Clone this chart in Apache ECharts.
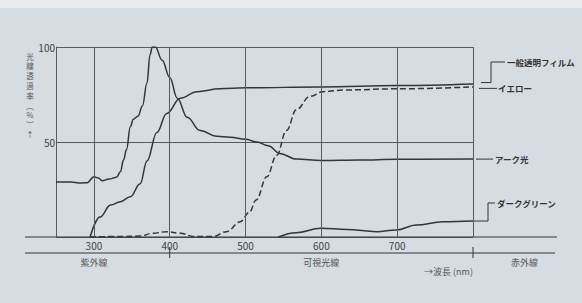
<!DOCTYPE html>
<html>
<head>
<meta charset="utf-8">
<script src="https://cdn.jsdelivr.net/npm/echarts@6/dist/echarts.min.js"></script>
<style>
  html, body { margin: 0; padding: 0; background: #e6eaee; }
  #chart { width: 582px; height: 303px; }
</style>
</head>
<body>
<div id="chart"></div>
<script>
// wavelength ticks (nm)
const labelNm = [300, 400, 500, 600, 700];
const gridNm = [300, 400, 500, 600, 700, 800];

// アーク光 (arc light)
const arcNm  = [250, 270, 282, 291, 300, 306, 311, 320, 330, 335, 339, 343, 348, 352, 358, 364, 370, 374, 377, 381, 390, 400, 410, 423, 440, 462, 480, 500, 515, 530, 545, 567, 600, 650, 700, 800];
const arcVal = [29, 29, 28.4, 28.6, 31.7, 31, 29.6, 30.5, 31.5, 34.4, 40.5, 46, 58, 62, 63.5, 69, 81, 96, 100, 100, 93, 84, 73, 63, 56, 53, 52.5, 51.5, 50, 48, 44, 41, 40.2, 40.5, 40.9, 41];

// 一般透明フィルム (clear film)
const filmNm  = [295, 308, 322, 335, 348, 361, 370, 383, 396, 414, 436, 466, 500, 600, 700, 800];
const filmVal = [0, 10.5, 16.8, 18.6, 21.2, 28, 40, 55, 65, 73, 76.5, 78, 78.5, 79, 79.7, 80.5];

// イエロー (yellow)
const yellowNm  = [295, 340, 361, 378, 396, 414, 431, 457, 475, 493, 505, 514, 528, 541, 554, 567, 585, 602, 633, 700, 800];
const yellowVal = [0, 0.3, 0.5, 2, 2.8, 2, 0.3, 0.3, 2.8, 8, 13, 19.5, 31.7, 43, 56, 67, 74, 76.5, 77.4, 78, 79];

// ダークグリーン (dark green)
const greenNm  = [543, 567, 599, 633, 673, 699, 725, 760, 800];
const greenVal = [0, 2.3, 4.6, 4, 2.8, 3.7, 6.3, 8, 8.4];

// region labels under the axis
const bands = [
  { name: '紫外線', nm: 300 },
  { name: '可視光線', nm: 600 },
  { name: '赤外線', nm: 868 }
];
const bandTicks = [400, 800];

// vertical y axis title, one glyph per row
const yTitle = ['光', '線', '透', '過', '率', '︵', '%', '︶', '↑'];

const INK = '#353535';
const GRID = '#5a5a5a';
const FONT = '"Noto Sans CJK JP", "Noto Sans", sans-serif';

function pairs(xs, ys) {
  return xs.map((x, i) => [x, ys[i]]);
}

const chart = echarts.init(document.getElementById('chart'), null, { renderer: 'svg' });

function lineSeries(name, xs, ys, dashed) {
  return {
    name,
    type: 'line',
    data: pairs(xs, ys),
    smooth: 0.4,
    smoothMonotone: 'x',
    showSymbol: false,
    silent: true,
    lineStyle: { color: INK, width: 1.5, type: dashed ? [6, 3] : 'solid' }
  };
}

const series = [
  lineSeries('アーク光', arcNm, arcVal, false),
  lineSeries('一般透明フィルム', filmNm, filmVal, false),
  lineSeries('イエロー', yellowNm, yellowVal, true),
  lineSeries('ダークグリーン', greenNm, greenVal, false)
];
// vertical grid lines at the wavelength ticks
series[0].markLine = {
  silent: true,
  symbol: ['none', 'none'],
  label: { show: false },
  lineStyle: { color: GRID, width: 1, type: 'solid' },
  data: gridNm.map(v => ({ xAxis: v }))
};

chart.setOption({
  animation: false,
  backgroundColor: '#d5dce2',
  grid: { left: 56, right: 109, top: 47, bottom: 66 },
  xAxis: {
    type: 'value',
    min: 250,
    max: 800,
    axisLine: { show: false },
    axisTick: { show: false },
    splitLine: { show: false },
    axisLabel: {
      customValues: labelNm,
      color: '#444',
      fontSize: 10,
      fontFamily: FONT,
      margin: 3
    }
  },
  yAxis: {
    type: 'value',
    min: 0,
    max: 100,
    interval: 50,
    axisLine: { show: true, lineStyle: { color: GRID, width: 1 } },
    axisTick: { show: false },
    splitLine: { show: true, lineStyle: { color: GRID, width: 1 } },
    axisLabel: {
      customValues: [50, 100],
      color: '#444',
      fontSize: 10,
      fontFamily: FONT,
      margin: 1
    }
  },
  series
});

// annotations placed from the axis scales
const px = (x, y) => chart.convertToPixel({ gridIndex: 0 }, [x, y]);
const y0 = px(250, 0)[1];
const bandY = y0 + 16;
const xRight = px(800, 0)[0];

const g = [];
const seg = (pts, w) => ({
  type: 'polyline', silent: true,
  shape: { points: pts },
  style: { stroke: INK, lineWidth: w || 1, fill: null }
});
const txt = (x, y, text, opt) => ({
  type: 'text', silent: true, x, y,
  style: Object.assign({
    text, fill: '#333', font: 'bold 8.5px ' + FONT,
    textAlign: 'left', textVerticalAlign: 'middle'
  }, opt || {})
});

g.push({ type: 'rect', silent: true, shape: { x: 0, y: 0, width: 582, height: 8 }, style: { fill: '#e9edf0' } });

// extended base line and band line
g.push(seg([[25, y0], [557, y0]], 1.2));
g.push(seg([[25, bandY], [555, bandY]], 1));
bandTicks.forEach(v => {
  const x = px(v, 0)[0];
  g.push(seg([[x, bandY - 6], [x, bandY + 5]], 1));
});
bands.forEach(b => {
  const x = px(b.nm, 0)[0];
  g.push(txt(x, bandY + 9, b.name, { textAlign: 'center', font: '9px ' + FONT, fill: '#555' }));
});
g.push(txt(xRight, bandY + 18, '→波長 (nm)', { textAlign: 'right', font: '9px ' + FONT, fill: '#555' }));

// y axis title, stacked glyphs
yTitle.forEach((ch, i) => {
  g.push(txt(30, 56 + i * 9.8, ch, { textAlign: 'center', font: '7.5px ' + FONT, fill: '#555' }));
});

// right side series labels with leader lines
const filmEnd = px(800, filmVal[filmVal.length - 1]);
const yellowEnd = px(800, yellowVal[yellowVal.length - 1]);
const arcEnd = px(800, arcVal[arcVal.length - 1]);
const greenEnd = px(800, greenVal[greenVal.length - 1]);

g.push(seg([[filmEnd[0] + 8, filmEnd[1] - 1.5], [491, filmEnd[1] - 1.5], [491, 62], [505, 62]]));
g.push(txt(507, 62, '一般透明フィルム'));
g.push(seg([[yellowEnd[0] + 6, yellowEnd[1] + 1.5], [497, yellowEnd[1] + 1.5]]));
g.push(txt(498, yellowEnd[1] + 1.5, 'イエロー'));
g.push(seg([[arcEnd[0] + 3, arcEnd[1]], [493, arcEnd[1]]]));
g.push(txt(495, arcEnd[1], 'アーク光'));
g.push(seg([[greenEnd[0], greenEnd[1]], [488, greenEnd[1]], [488, 203], [495, 203]]));
g.push(txt(497, 203, 'ダークグリーン'));

chart.setOption({ graphic: g });
</script>
</body>
</html>
